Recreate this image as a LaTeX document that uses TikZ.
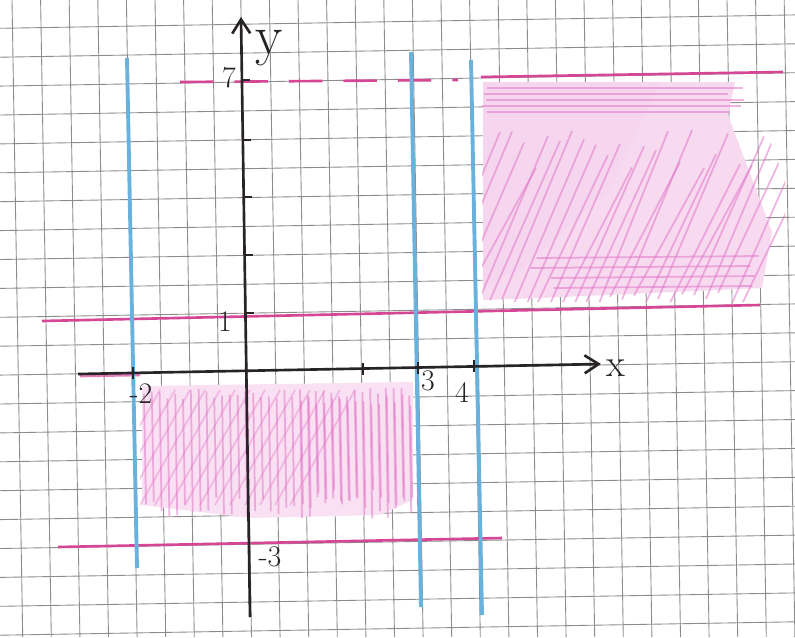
\documentclass[tikz,border=0pt]{standalone}
\usetikzlibrary{arrows.meta}
\definecolor{gridgray}{RGB}{140,140,140}
\definecolor{ink}{RGB}{40,35,38}
\definecolor{pen}{RGB}{214,70,150}
\definecolor{hatch}{RGB}{226,120,200}
\definecolor{bluepen}{RGB}{105,178,222}

\begin{document}
\begin{tikzpicture}[x=0.02cm,y=-0.02cm,
  gridline/.style={gridgray,line width=0.5pt},
  axis/.style={ink,line width=1.5pt},
  pinkline/.style={pen,line width=1.5pt},
  blueline/.style={bluepen,line width=2.2pt},
  hatchline/.style={hatch,line width=1pt,opacity=0.55},
  tickmark/.style={ink,line width=1.3pt},
  lab/.style={ink,font=\fontsize{17}{19}\selectfont},
  >={Straight Barb[length=2.8mm,width=3.6mm]}]
\useasboundingbox (0,0) rectangle (795,637);
\fill[white] (0,0) rectangle (795,637);
\foreach \k in {-1,...,27}
  \draw[gridline] ({40.6+28.6*\k},0) -- ({51.3+28.6*\k},637);
\foreach \k in {-2,...,21}
  \draw[gridline] (0,{57.2+28.9*\k}) -- (795,{43.8+28.9*\k});

\begin{scope}
  \clip (140,384) -- (414,380) -- (416,530) -- (140,530) -- cycle;
  \fill[hatch!22] (142,386) -- (413,382) -- (413,500) -- (380,515) -- (250,518) -- (142,505) -- cycle;
  \pgfmathsetseed{11}
  \foreach \i in {0,...,34}
    \draw[hatchline] ({144+7.8*\i},{394+6*rand}) -- ({146+7.8*\i},{508+12*rand});
  \foreach \i in {20,...,34}
    \draw[hatchline] ({145+7.8*\i},{400+6*rand}) -- ({147+7.8*\i},{500+10*rand});
  \foreach \i in {0,...,13}
    \draw[hatchline,opacity=0.4] ({95+15*\i},505) -- ({160+15*\i},390);
\end{scope}

\begin{scope}
  \clip (482,76) -- (745,76) -- (785,180) -- (785,302) -- (482,302) -- cycle;
  \fill[hatch!28] (483,82) -- (735,82) -- (728,115) -- (772,232) -- (762,288) -- (540,298) -- (483,300) -- cycle;
  \fill[hatch!30] (483,82) -- (660,82) -- (610,190) -- (520,270) -- (483,285) -- cycle;
  \pgfmathsetseed{5}
  \foreach \i in {0,...,26}
    \draw[hatchline] ({430+12*\i},{300+8*rand}) -- ({500+12*\i},{150+20*rand});
  \foreach \i in {0,...,4}
    \draw[hatchline] ({485+4*rand},{88+6*\i}) -- ({735+10*rand},{88+6*\i});
  \foreach \i in {0,...,3}
    \draw[hatchline] ({545+15*rand},{258+10*\i}) -- ({755+15*rand},{256+10*\i});
\end{scope}

\draw[pinkline,dash pattern=on 19pt off 12pt] (180,82) -- (458,80);
\draw[pinkline] (481,77) -- (783,72);
\draw[pinkline] (42,321) -- (760,305);
\draw[pinkline] (58,547) -- (502,538);
\draw[pinkline,opacity=0.7] (80,376) -- (140,375);

\draw[blueline] (127,58) -- (137,568);
\draw[blueline] (411,52) -- (421,607);
\draw[blueline] (471,60) -- (482,615);

\coordinate (ybot) at (250,617);
\coordinate (ytop) at (241,17);
\coordinate (xleft) at (78,374);
\coordinate (xright) at (601,364);
\draw[axis,->] (ybot) -- (ytop);
\draw[axis,->] (xleft) -- (xright);

\foreach \yy/\xx in {80/242,140/243,197/244,255/245,313/246}
  \draw[tickmark] (\xx,\yy) -- ({\xx+8},\yy);
\foreach \xx/\yy in {133/373,363/368.5,418/367.5,474/366.4}
  \draw[tickmark] (\xx,{\yy-6}) -- (\xx,{\yy+6});

\node[lab] (lbm2) at (141,394) {-2};
\node[lab] (lb3) at (428,381) {3};
\node[lab] (lb4) at (462,392) {4};
\node[lab] (lb1) at (225,322) {1};
\node[lab] (lb7) at (229,78) {7};
\node[lab] (lbm3) at (270,557) {-3};
\node[ink,inner sep=0pt,font=\fontsize{32}{34}\selectfont] (lby) at (269,48) {y};
\node[ink,font=\fontsize{22}{24}\selectfont] (lbx) at (616,368) {x};
\end{tikzpicture}
\end{document}
